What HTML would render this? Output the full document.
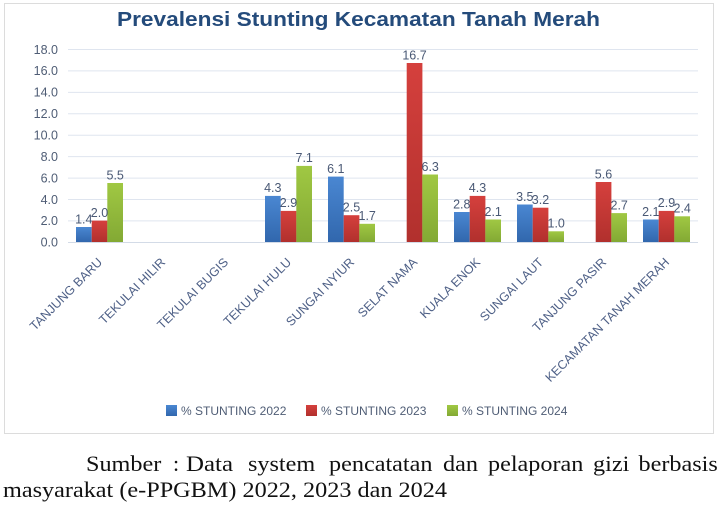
<!DOCTYPE html>
<html>
<head>
<meta charset="utf-8">
<style>
  html, body { margin:0; padding:0; background:#ffffff; }
  svg { display:block; }
</style>
</head>
<body>
<svg width="720" height="519" viewBox="0 0 720 519" xmlns="http://www.w3.org/2000/svg">
  <defs>
    <linearGradient id="gb" x1="0" y1="0" x2="0" y2="1">
      <stop offset="0" stop-color="#4a87d2"/>
      <stop offset="1" stop-color="#3167ad"/>
    </linearGradient>
    <linearGradient id="gr" x1="0" y1="0" x2="0" y2="1">
      <stop offset="0" stop-color="#d5403d"/>
      <stop offset="1" stop-color="#b1302d"/>
    </linearGradient>
    <linearGradient id="gg" x1="0" y1="0" x2="0" y2="1">
      <stop offset="0" stop-color="#a0c843"/>
      <stop offset="1" stop-color="#83a934"/>
    </linearGradient>
  </defs>

  <rect x="0" y="0" width="720" height="519" fill="#ffffff"/>
  <!-- chart frame -->
  <rect x="4.5" y="3.5" width="709" height="430" fill="#ffffff" stroke="#dcdcdc" stroke-width="1"/>

  <!-- title -->
  <text x="117" y="26" font-family="Liberation Sans, sans-serif" font-weight="bold" font-size="20" fill="#244b7b" textLength="483" lengthAdjust="spacingAndGlyphs">Prevalensi Stunting Kecamatan Tanah Merah</text>

  <!-- gridlines -->
  <g stroke="#dfe5ef" stroke-width="1">
    <line x1="68" y1="49.5" x2="698" y2="49.5"/>
    <line x1="68" y1="70.9" x2="698" y2="70.9"/>
    <line x1="68" y1="92.4" x2="698" y2="92.4"/>
    <line x1="68" y1="113.8" x2="698" y2="113.8"/>
    <line x1="68" y1="135.2" x2="698" y2="135.2"/>
    <line x1="68" y1="156.6" x2="698" y2="156.6"/>
    <line x1="68" y1="178.1" x2="698" y2="178.1"/>
    <line x1="68" y1="199.5" x2="698" y2="199.5"/>
    <line x1="68" y1="220.9" x2="698" y2="220.9"/>
  </g>
  <line x1="68" y1="242.5" x2="698" y2="242.5" stroke="#d3dbe7" stroke-width="1"/>

  <!-- y-axis labels -->
  <g font-family="Liberation Sans, sans-serif" font-size="12.5" fill="#4f5d75" text-anchor="end">
    <text x="58" y="53.8">18.0</text>
    <text x="58" y="75.2">16.0</text>
    <text x="58" y="96.7">14.0</text>
    <text x="58" y="118.1">12.0</text>
    <text x="58" y="139.5">10.0</text>
    <text x="58" y="160.9">8.0</text>
    <text x="58" y="182.4">6.0</text>
    <text x="58" y="203.8">4.0</text>
    <text x="58" y="225.2">2.0</text>
    <text x="58" y="246.6">0.0</text>
  </g>

  <!-- bars -->
  <g>
    <rect x="76" y="227.0" width="15.7" height="15.0" fill="url(#gb)"/>
    <rect x="91.7" y="220.6" width="15.7" height="21.4" fill="url(#gr)"/>
    <rect x="107.3" y="183.0" width="15.7" height="59.0" fill="url(#gg)"/>

    <rect x="265" y="195.9" width="15.7" height="46.1" fill="url(#gb)"/>
    <rect x="280.7" y="210.9" width="15.7" height="31.1" fill="url(#gr)"/>
    <rect x="296.3" y="165.9" width="15.7" height="76.1" fill="url(#gg)"/>

    <rect x="328" y="176.6" width="15.7" height="65.4" fill="url(#gb)"/>
    <rect x="343.7" y="215.2" width="15.7" height="26.8" fill="url(#gr)"/>
    <rect x="359.3" y="223.8" width="15.7" height="18.2" fill="url(#gg)"/>

    <rect x="406.7" y="63.0" width="15.7" height="179.0" fill="url(#gr)"/>
    <rect x="422.3" y="174.5" width="15.7" height="67.5" fill="url(#gg)"/>

    <rect x="454" y="212.0" width="15.7" height="30.0" fill="url(#gb)"/>
    <rect x="469.7" y="195.9" width="15.7" height="46.1" fill="url(#gr)"/>
    <rect x="485.3" y="219.5" width="15.7" height="22.5" fill="url(#gg)"/>

    <rect x="517" y="204.5" width="15.7" height="37.5" fill="url(#gb)"/>
    <rect x="532.7" y="207.7" width="15.7" height="34.3" fill="url(#gr)"/>
    <rect x="548.3" y="231.3" width="15.7" height="10.7" fill="url(#gg)"/>

    <rect x="595.7" y="182.0" width="15.7" height="60.0" fill="url(#gr)"/>
    <rect x="611.3" y="213.1" width="15.7" height="28.9" fill="url(#gg)"/>

    <rect x="643" y="219.5" width="15.7" height="22.5" fill="url(#gb)"/>
    <rect x="658.7" y="210.9" width="15.7" height="31.1" fill="url(#gr)"/>
    <rect x="674.3" y="216.3" width="15.7" height="25.7" fill="url(#gg)"/>
  </g>

  <!-- data labels -->
  <g font-family="Liberation Sans, sans-serif" font-size="12.5" fill="#4a5975" text-anchor="middle">
    <text x="83.8" y="223.3">1.4</text>
    <text x="99.5" y="216.9">2.0</text>
    <text x="115.2" y="179.3">5.5</text>

    <text x="272.8" y="192.2">4.3</text>
    <text x="288.5" y="207.2">2.9</text>
    <text x="304.2" y="162.2">7.1</text>

    <text x="335.8" y="172.9">6.1</text>
    <text x="351.5" y="211.5">2.5</text>
    <text x="367.2" y="220.1">1.7</text>

    <text x="414.5" y="59.3">16.7</text>
    <text x="430.2" y="170.8">6.3</text>

    <text x="461.8" y="208.3">2.8</text>
    <text x="477.5" y="192.2">4.3</text>
    <text x="493.2" y="215.8">2.1</text>

    <text x="524.8" y="200.8">3.5</text>
    <text x="540.5" y="204.0">3.2</text>
    <text x="556.2" y="227.6">1.0</text>

    <text x="603.5" y="178.3">5.6</text>
    <text x="619.2" y="209.4">2.7</text>

    <text x="650.8" y="215.8">2.1</text>
    <text x="666.5" y="207.2">2.9</text>
    <text x="682.2" y="212.6">2.4</text>
  </g>

  <!-- category labels -->
  <g font-family="Liberation Sans, sans-serif" font-size="12.5" fill="#4d5f86" text-anchor="end">
    <text transform="translate(103,263) rotate(-45)">TANJUNG BARU</text>
    <text transform="translate(166,263) rotate(-45)">TEKULAI HILIR</text>
    <text transform="translate(229,263) rotate(-45)">TEKULAI BUGIS</text>
    <text transform="translate(292,263) rotate(-45)">TEKULAI HULU</text>
    <text transform="translate(355,263) rotate(-45)">SUNGAI NYIUR</text>
    <text transform="translate(418,263) rotate(-45)">SELAT NAMA</text>
    <text transform="translate(481,263) rotate(-45)">KUALA ENOK</text>
    <text transform="translate(544,263) rotate(-45)">SUNGAI LAUT</text>
    <text transform="translate(607,263) rotate(-45)">TANJUNG PASIR</text>
    <text transform="translate(670,263) rotate(-45)">KECAMATAN TANAH MERAH</text>
  </g>

  <!-- legend -->
  <rect x="166" y="405" width="11" height="11" fill="url(#gb)"/>
  <rect x="306" y="405" width="11" height="11" fill="url(#gr)"/>
  <rect x="447" y="405" width="11" height="11" fill="url(#gg)"/>
  <g font-family="Liberation Sans, sans-serif" font-size="12" fill="#4f5d75">
    <text x="181" y="415">% STUNTING 2022</text>
    <text x="321" y="415">% STUNTING 2023</text>
    <text x="462" y="415">% STUNTING 2024</text>
  </g>

  <!-- source text -->
  <g font-family="Liberation Serif, serif" font-size="22" fill="#111111">
    <text x="86" y="471" textLength="75.3" lengthAdjust="spacingAndGlyphs">Sumber</text>
    <text x="173" y="471">:</text>
    <text x="186" y="471" textLength="47" lengthAdjust="spacingAndGlyphs">Data</text>
    <text x="248" y="471" textLength="67.2" lengthAdjust="spacingAndGlyphs">system</text>
    <text x="329" y="471" textLength="103.5" lengthAdjust="spacingAndGlyphs">pencatatan</text>
    <text x="443" y="471" textLength="35" lengthAdjust="spacingAndGlyphs">dan</text>
    <text x="488" y="471" textLength="95.4" lengthAdjust="spacingAndGlyphs">pelaporan</text>
    <text x="593" y="471" textLength="36.3" lengthAdjust="spacingAndGlyphs">gizi</text>
    <text x="638.5" y="471" textLength="79.3" lengthAdjust="spacingAndGlyphs">berbasis</text>
    <text x="3" y="497" textLength="444" lengthAdjust="spacingAndGlyphs">masyarakat (e-PPGBM) 2022, 2023 dan 2024</text>
  </g>
</svg>
</body>
</html>
